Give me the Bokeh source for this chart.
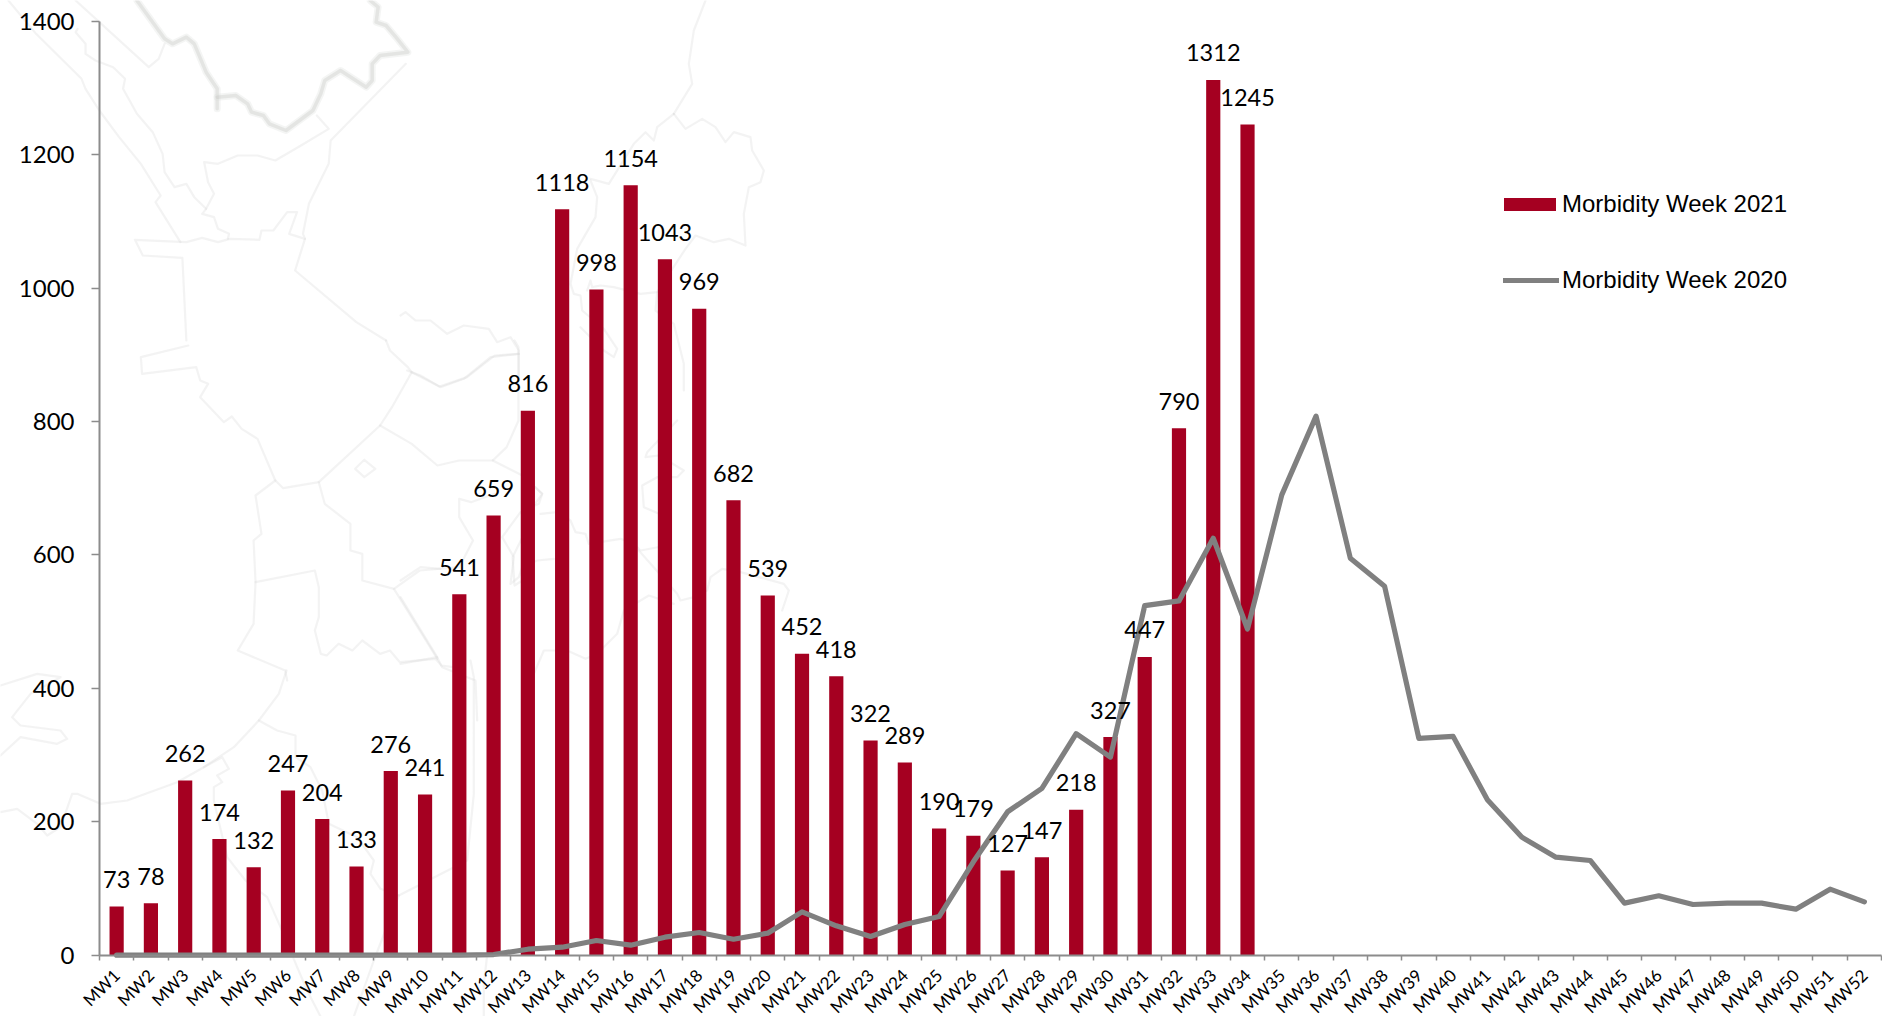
from bokeh.plotting import figure
from bokeh.models import (ColumnDataSource, Range1d, LinearAxis, FixedTicker, Legend, LegendItem, PolyAnnotation)
from bokeh.core.properties import value
from bokeh.embed import file_html
from bokeh.resources import INLINE

weeks = [f"MW{i}" for i in range(1, 53)]
week_centers = [i + 0.5 for i in range(52)]
week_edges = list(range(53))
y_ticks = [0, 200, 400, 600, 800, 1000, 1200, 1400]

cases_2021 = [73, 78, 262, 174, 132, 247, 204, 133, 276, 241, 541, 659, 816, 1118, 998, 1154, 1043, 969,
              682, 539, 452, 418, 322, 289, 190, 179, 127, 147, 218, 327, 447, 790, 1312, 1245]
cases_2020 = [0, 0, 0, 0, 0, 0, 0, 0, 0, 0, 0, 1, 9, 12, 22, 15, 27, 34, 24, 33, 65, 44, 28, 46, 58,
              140, 215, 250, 332, 297, 524, 531, 625, 489, 690, 808, 595, 553, 325, 328, 233, 177,
              147, 142, 78, 89, 76, 78, 78, 69, 99, 80]

RED = "#A50021"
GREY = "#808080"
AXIS = "#8c8c8c"
TICK_FONT = "Lato"

# Faint background map: outlines, as (x0, y0, sx, sy, points) in zoom-crop terms.
Z1 = (0, 0, 2.529, 3)
Z5 = (0, 340, 2.529, 3)
Z6 = (400, 0, 3, 3)
Z7 = (0, 660, 3, 3)
Z8 = (400, 380, 3, 3)
Z10 = (400, 840, 3, 3)
map_coast = [
    (Z1, [(345,0),(415,115),(435,130),(470,110),(490,130),(520,215),(548,265),(548,325)]),
    (Z1, [(548,290),(595,285),(625,310),(635,335),(665,345),(680,370),(722,390),(790,330),(810,280),(820,240),
          (860,210),(925,260),(940,240),(940,190),(960,165),(1030,155),(1000,110),(975,75),(950,65),(955,20),(935,0)]),
]
map_lines = [
    (Z1, [(20,0),(90,100),(150,170),(205,235),(215,265),(250,330),(300,410),(355,490),(405,585),(392,605),(455,725)]),
    (Z1, [(190,0),(375,200),(400,175),(415,130)]),
    (Z1, [(195,85),(190,95),(215,130),(215,160),(240,180),(285,200),(315,235),(310,265),(345,340),(385,395),(410,460),
          (415,515),(440,560),(470,550),(490,590),(520,625),(510,640),(540,650),(550,685),(578,700),(575,715)]),
    (Z1, [(520,625),(540,580),(525,545),(515,485),(550,490),(600,465),(650,465),(695,480),(760,435),(830,385),(800,345)]),
    (Z1, [(1025,190),(835,420),(830,490),(780,610),(765,700),(770,715),(730,700),(750,635),(725,635),(690,690),(660,690),
          (655,718),(580,715),(550,725),(510,712),(470,725),(340,718),(360,765),(460,772),(470,1020)]),
    (Z1, [(770,715),(745,810),(900,965),(975,1020)]),
    (Z6, [(915,0),(880,90),(865,190),(875,250),(820,340)]),
    (Z6, [(820,340),(855,385),(905,355),(945,380),(975,425),(1000,395),(1050,410),(1055,450),(1090,510),(1080,545),
          (1045,560),(1030,640),(1035,735),(985,715),(940,725),(885,705),(855,745),(770,875),(720,880),(640,860),
          (600,855),(575,860),(570,840),(560,870)]),
    (Z6, [(820,340),(770,380),(760,420),(735,395),(700,430),(625,550),(570,535)]),
    (Z6, [(570,540),(590,590),(585,650),(530,745),(510,850),(520,880),(540,885),(545,930),(610,985),(650,1045),(640,1070),(610,1050),(540,980)]),
    (Z6, [(770,875),(765,930),(820,970),(850,1090),(850,1170)]),
    (Z6, [(0,945),(15,935),(45,960),(90,960),(140,1000),(190,975),(265,985),(290,1025),(330,1010),(355,1050),(355,1130)]),
    (Z6, [(355,1060),(270,1070),(190,1135),(120,1160),(60,1125),(20,1110)]),
    (Z5, [(475,15),(355,50),(358,100),(495,80),(505,120),(525,130),(505,170),(565,245),(585,228),(610,265),(650,295),
          (695,420),(715,443),(805,425),(960,255),(990,200),(1040,95),(1030,80),(985,30),(975,0)]),
    (Z5, [(1040,95),(1110,138),(1180,110),(1250,45),(1310,40)]),
    (Z5, [(960,255),(1040,310),(1105,375),(1160,360),(1245,360),(1280,320),(1310,240),(1310,20),(1300,0)]),
    (Z5, [(1245,360),(1320,405),(1370,460),(1340,510),(1320,590),(1295,650),(1300,735),(1320,720)]),
    (Z5, [(805,425),(820,490),(885,550),(885,630),(915,640),(915,720),(995,745),(1060,690),(1160,680),(1195,600),
          (1160,530),(1160,475),(1190,485),(1250,460)]),
    (Z5, [(695,420),(645,465),(660,580),(640,600),(645,725),(640,850),(600,930),(720,990),(725,1020)]),
    (Z5, [(645,725),(795,690),(805,740),(805,830),(795,870),(810,940),(825,945),(855,910),(890,930),(915,900),(960,940),
          (985,930),(1010,965),(1100,955),(1115,975),(1145,980)]),
    (Z5, [(995,745),(1105,955)]),
    (Z5, [(920,358),(948,385),(920,410),(897,385),(920,358)]),
    (Z7, [(0,75),(110,40),(180,50),(90,100),(35,170),(60,195),(180,210),(200,235),(170,250),(60,230),(0,285)]),
    (Z7, [(0,455),(50,445),(110,490),(140,525),(180,500),(215,400),(230,400),(300,430),(380,420),(530,365),(610,320),
          (665,290),(685,325),(650,345),(665,365),(640,380),(640,420),(680,590),(735,660),(800,710),(840,800),(890,920),
          (920,990),(960,1068)]),
    (Z7, [(858,30),(835,100),(775,180),(700,260),(610,320)]),
    (Z7, [(775,180),(830,210),(885,225),(885,290),(930,320),(965,390),(985,490),(1070,530),(1120,600),(1110,640),
          (1140,685),(1195,705),(1400,600),(1420,400),(1420,50),(1410,0)]),
    (Z7, [(1195,705),(1120,900),(1060,1068)]),
    (Z10, [(260,345),(250,430),(250,528)]),
    (Z8, [(405,320),(425,340),(415,370),(360,395),(305,470),(340,530),(330,610),(355,590),(365,560),(410,540),(460,535)]),
    (Z8, [(420,400),(470,395),(510,420),(525,455),(555,460),(565,490),(660,475),(700,490),(720,510),(800,495)]),
    (Z8, [(715,510),(830,640),(840,660),(880,650),(920,630),(930,590),(965,565),(1020,575),(1150,610),(1165,630),(1145,690)]),
    (Z8, [(820,670),(745,645),(670,690),(650,760),(590,820),(555,835),(500,810),(430,810),(400,880),(400,1020)]),
    (Z8, [(0,650),(110,830),(125,860),(200,890),(225,900),(230,1020)]),
    (Z8, [(0,850),(110,830)]),
    (Z8, [(0,600),(60,560),(120,565)]),
    (Z8, [(830,120),(740,215),(735,230),(775,225),(850,270),(830,290),(770,290),(725,315),(730,380),(800,410)]),
]

# The plot frame fills the canvas, with both axes pinned at zero, so that the map and tick labels around the
# axes are not clipped.  Pixel anchors of the chart's origin and far corner:
W, H = 1882, 1016
X0, X1 = 99, 1881
Y0, Y1 = 954.7, 20.7
ppx = (X1 - X0) / 52
ppy = (Y0 - Y1) / 1400

p = figure(width=W, height=H, output_backend="svg", toolbar_location=None,
           x_range=Range1d(-X0 / ppx, 52 + (W - X1) / ppx),
           y_range=Range1d(-(H - Y0) / ppy, 1400 + Y1 / ppy),
           min_border_left=0, min_border_right=0, min_border_top=0, min_border_bottom=0,
           x_axis_type=None, y_axis_type=None, outline_line_color=None, background_fill_color="white")
p.grid.visible = False


def add_outline(trace, color, width):
    (x0, y0, sx, sy), pts = trace
    xs = [x0 + x / sx for x, _ in pts]
    ys = [y0 + y / sy for _, y in pts]
    # walk there and back so that the closed annotation path stays an open line
    p.add_layout(PolyAnnotation(xs=xs + xs[::-1], ys=ys + ys[::-1], xs_units="canvas", ys_units="canvas",
                                fill_alpha=0, line_color=color, line_width=width, line_join="round",
                                level="underlay"))


for t in map_lines:
    add_outline(t, "#d6d6d6", 2.2)
for t in map_coast:
    add_outline(t, "#dcdeda", 7)
    add_outline(t, "#bfc1bc", 3.5)

bars = ColumnDataSource(dict(x=week_centers[:len(cases_2021)], top=cases_2021,
                             label=[str(v) for v in cases_2021]))
line = ColumnDataSource(dict(x=week_centers, y=cases_2020))

bar_r = p.vbar(x="x", top="top", bottom=0, width=0.414, source=bars, fill_color=RED, line_color=None)
line_r = p.line(x="x", y="y", source=line, line_color=GREY, line_width=5.2, line_join="round", line_cap="round")
p.text(x="x", y="top", text="label", source=bars, y_offset=-27, text_align="center", text_baseline="middle",
       text_font=value(TICK_FONT), text_font_size="23.5px", text_color="black")

xaxis = LinearAxis(ticker=FixedTicker(ticks=week_centers, minor_ticks=week_edges), bounds=(0, 52),
                   major_label_overrides={c: w for c, w in zip(week_centers, weeks)},
                   major_label_orientation=0.785, major_label_text_font=TICK_FONT,
                   major_label_text_font_size="17px", major_label_text_color="black",
                   major_label_standoff=12, major_tick_in=0, major_tick_out=0, minor_tick_in=0, minor_tick_out=5,
                   axis_line_color=AXIS, axis_line_width=2, minor_tick_line_color=AXIS, minor_tick_line_width=1.5,
                   fixed_location=0)
p.add_layout(xaxis, "below")

yaxis = LinearAxis(ticker=FixedTicker(ticks=y_ticks), bounds=(0, 1400), major_label_text_font=TICK_FONT,
                   major_label_text_font_size="24px", major_label_text_color="black", major_label_standoff=17,
                   major_tick_in=0, major_tick_out=8, minor_tick_out=0, minor_tick_in=0,
                   axis_line_color=AXIS, axis_line_width=2, major_tick_line_color=AXIS, major_tick_line_width=1.5,
                   fixed_location=0)
p.add_layout(yaxis, "left")

common = dict(label_text_font="Liberation Sans", label_text_font_size="24px", label_text_color="black",
              border_line_color=None, background_fill_alpha=0, padding=0, margin=0, spacing=0,
              click_policy="none")
leg_a = Legend(items=[LegendItem(label="Morbidity Week 2021", renderers=[bar_r])], location=(1497, 798),
               glyph_width=65, glyph_height=16, label_standoff=0, **common)
leg_b = Legend(items=[LegendItem(label="Morbidity Week 2020", renderers=[line_r])], location=(1503, 722),
               glyph_width=56, glyph_height=16, label_standoff=3, **common)
p.add_layout(leg_a)
p.add_layout(leg_b)

open("out.html", "w").write(file_html(p, INLINE))
